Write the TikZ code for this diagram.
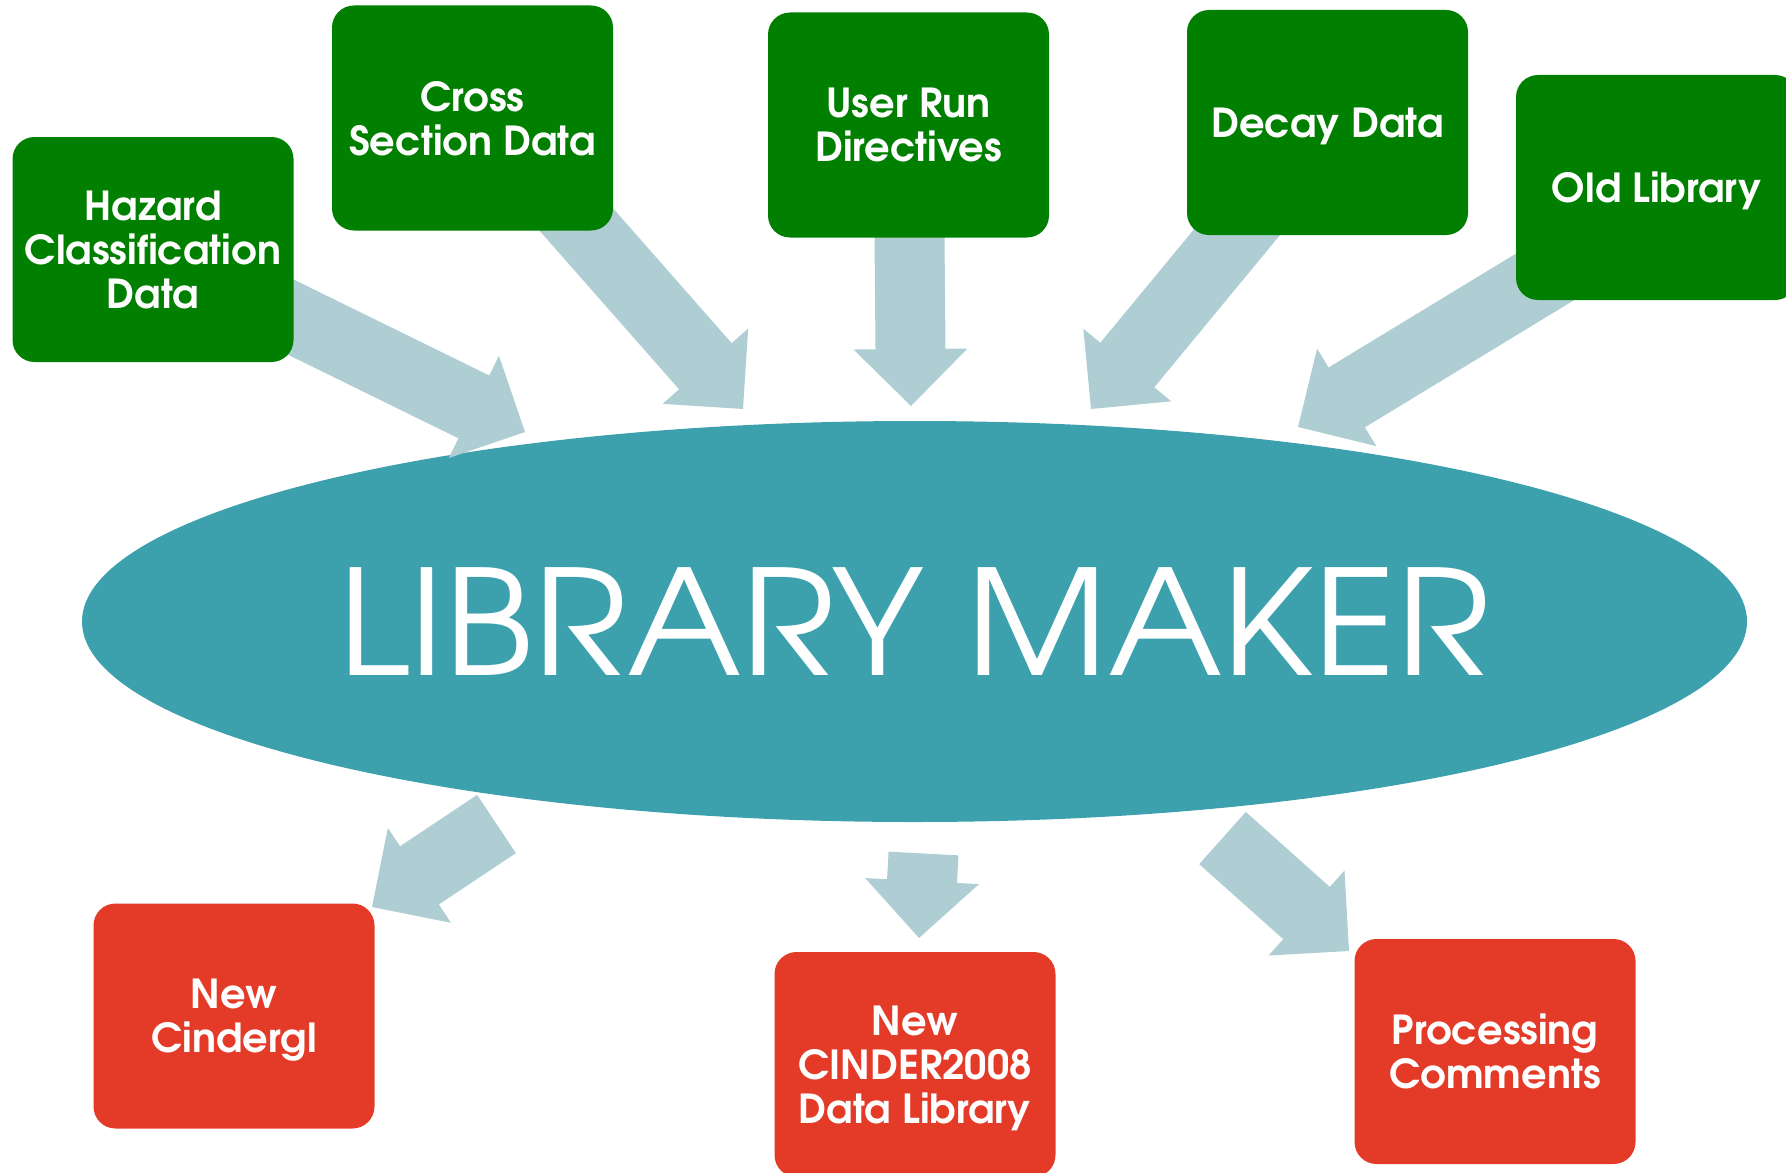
\documentclass[tikz,border=0pt]{standalone}
\usepackage{fontspec}
\setmainfont{texgyreadventor}[Extension=.otf, UprightFont=*-regular, BoldFont=*-bold, ItalicFont=*-italic, BoldItalicFont=*-bolditalic]
\usetikzlibrary{shapes.geometric,calc}
\definecolor{boxgreen}{RGB}{0,127,0}
\definecolor{boxred}{RGB}{228,58,40}
\definecolor{libteal}{RGB}{61,161,173}
\definecolor{arrowblue}{RGB}{175,206,212}
\tikzset{
  srcbox/.style={rounded corners=11pt, fill=boxgreen, minimum width=140.5pt, minimum height=112.5pt,
    text=white, align=center, inner sep=0pt, text depth=0pt, font=\fontsize{20pt}{22pt}\selectfont\bfseries},
  outbox/.style={srcbox, fill=boxred},
  fatfill/.style={fill=arrowblue}
}
\newcommand\fatarrow[2]{%
  \coordinate (fa-b) at ($(#2)!28.5pt!(#1)$);
  \fill[fatfill] ($(#1)!17.5pt!90:(#2)$) -- ($(fa-b)!17.5pt!90:(#2)$) -- ($(fa-b)!28.5pt!90:(#2)$) -- (#2)
    -- ($(fa-b)!28.5pt!-90:(#2)$) -- ($(fa-b)!17.5pt!-90:(#2)$) -- ($(#1)!17.5pt!-90:(#2)$) -- cycle;}
\begin{document}
\begin{tikzpicture}[x=0.5pt,y=-0.5pt]
\useasboundingbox (0,0) rectangle (1786,1172);
% central ellipse
\node[ellipse, fill=libteal, minimum width=832.5pt, minimum height=200.5pt, inner sep=0pt,
  text=white, font=\fontsize{73pt}{80pt}\selectfont] (lib) at (914.5,621.5) {\scalebox{1.057}[1]{LIBRARY MAKER}};
% box centres
\path (153,249.5) coordinate (hazc) (472.5,118) coordinate (crossc) (908.5,125) coordinate (userc)
      (1327.5,122.5) coordinate (decayc) (1656.5,187.5) coordinate (oldc);
% arrow starts (hidden behind boxes) and tips
\coordinate (s-cross) at (487,118);
\coordinate (s-old) at (1683,193);
\coordinate (t-haz) at (525,432);
\coordinate (t-cross) at (743,409);
\coordinate (t-user) at (911,406);
\coordinate (t-decay) at (1091,409);
\coordinate (t-old) at (1298,427);
\coordinate (s-cin) at (496.5,824);
\coordinate (t-cin) at (372,907);
\coordinate (s-c08) at (923.5,853.5);
\coordinate (t-c08) at (919,938);
\coordinate (s-proc) at (1222.5,838);
\coordinate (t-proc) at (1349,951);
% input arrows (behind boxes)
\fatarrow{hazc}{t-haz}
\fatarrow{s-cross}{t-cross}
\fatarrow{userc}{t-user}
\fatarrow{decayc}{t-decay}
\fatarrow{s-old}{t-old}
% output arrows
\fatarrow{s-cin}{t-cin}
\fatarrow{s-c08}{t-c08}
\fatarrow{s-proc}{t-proc}
% boxes
\node[srcbox] (haz) at (hazc) {Hazard\\Classification\\Data};
\node[srcbox] (cross) at (crossc) {Cross\\Section Data};
\node[srcbox] (user) at (userc) {User Run\\Directives};
\node[srcbox] (decay) at (decayc) {Decay Data};
\node[srcbox] (old) at (oldc) {Old Library};
\node[outbox] (cin) at (234,1016) {New\\Cindergl};
\node[outbox] (c08) at (915,1064.5) {New\\CINDER2008\\Data Library};
\node[outbox] (proc) at (1495,1051.5) {Processing\\Comments};
\end{tikzpicture}
\end{document}
